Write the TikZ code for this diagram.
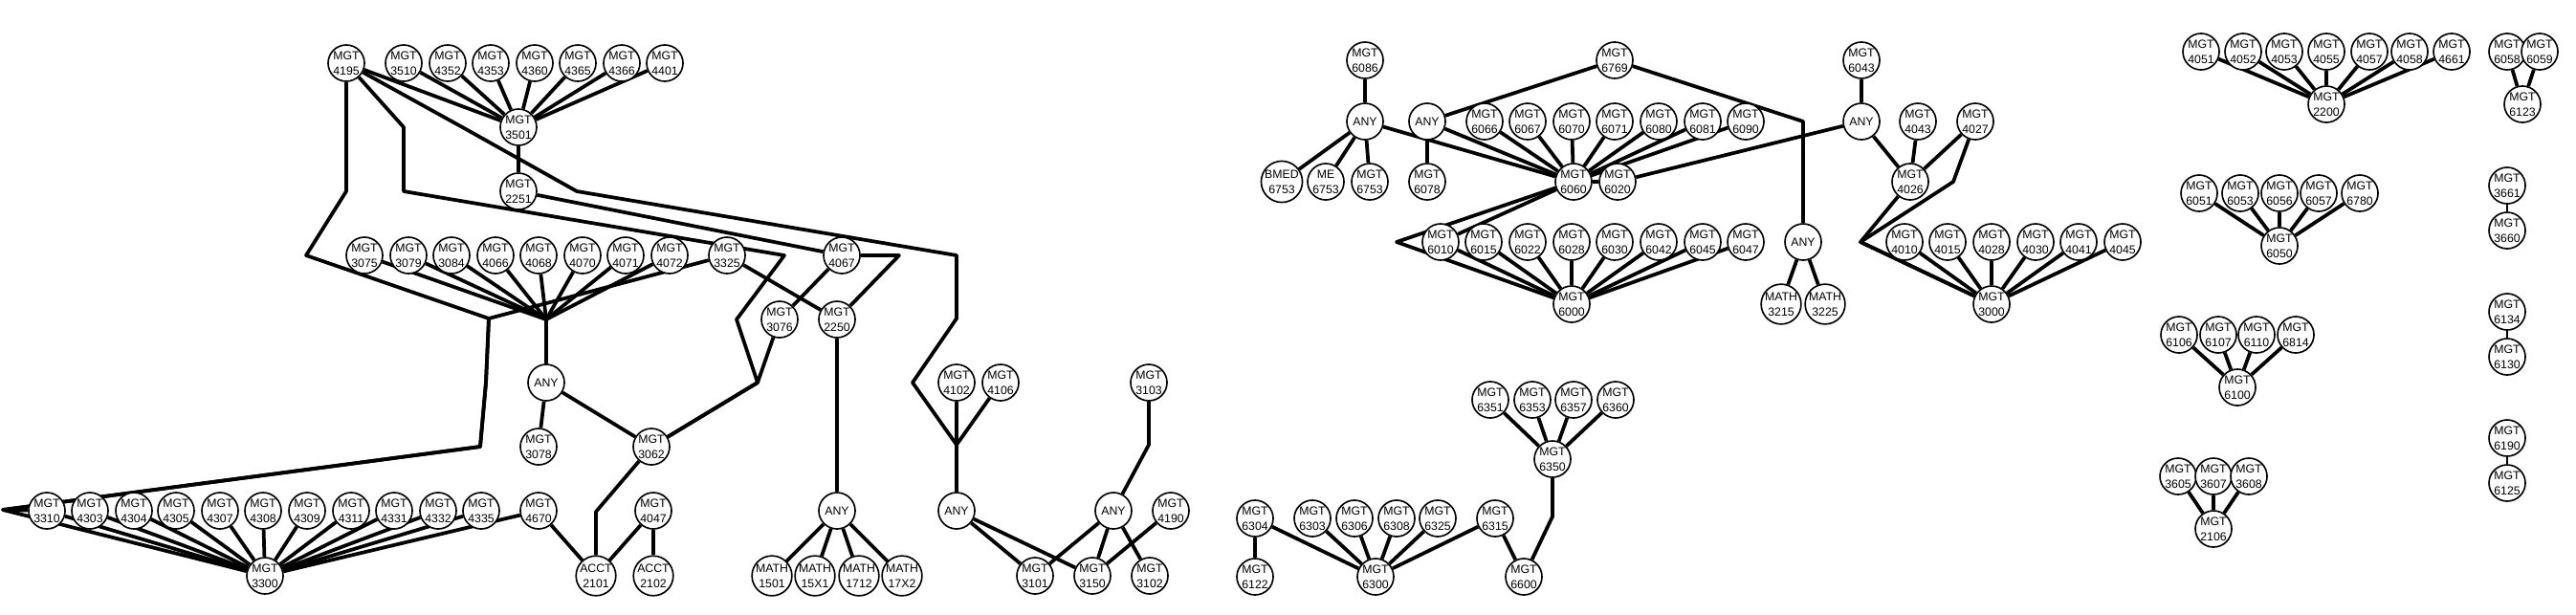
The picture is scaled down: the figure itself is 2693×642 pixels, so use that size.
\documentclass[tikz,border=0pt]{standalone}
\usepackage{fontspec}
\setmainfont{Liberation Sans}
\usetikzlibrary{backgrounds}
\newcommand\mkn[4]{\node[crs] (#1) at (#2,#3) {#4};}
\begin{document}
\begin{tikzpicture}[x=0.03cm,y=-0.03cm,
 crs/.style={circle,draw,line width=1.4pt,fill=white,inner sep=0pt,minimum size=1.14cm,align=center,font=\fontsize{10.5}{13.6}\selectfont},
 ed/.style={line width=3.2pt,line join=round},
 thin ed/.style={line width=2pt}]
\useasboundingbox (0,0) rectangle (2693,642);
% ---------- left component
\mkn{m4195}{362}{66}{MGT\\4195}
\mkn{m3510}{422}{66}{MGT\\3510}
\mkn{m4352}{468}{66}{MGT\\4352}
\mkn{m4353}{513}{66}{MGT\\4353}
\mkn{m4360}{559}{66}{MGT\\4360}
\mkn{m4365}{604}{66}{MGT\\4365}
\mkn{m4366}{650}{66}{MGT\\4366}
\mkn{m4401}{695}{66}{MGT\\4401}
\mkn{m3501}{542}{133}{MGT\\3501}
\mkn{m2251}{542}{200}{MGT\\2251}
\mkn{m3075}{381}{267}{MGT\\3075}
\mkn{m3079}{427}{267}{MGT\\3079}
\mkn{m3084}{472}{267}{MGT\\3084}
\mkn{m4066}{518}{267}{MGT\\4066}
\mkn{m4068}{563}{267}{MGT\\4068}
\mkn{m4070}{609}{267}{MGT\\4070}
\mkn{m4071}{654}{267}{MGT\\4071}
\mkn{m4072}{700}{267}{MGT\\4072}
\mkn{m3325}{760}{267}{MGT\\3325}
\mkn{m4067}{880}{267}{MGT\\4067}
\mkn{m3076}{815}{334}{MGT\\3076}
\mkn{m2250}{875}{334}{MGT\\2250}
\mkn{anyA}{571}{400}{ANY}
\mkn{m3078}{563}{467}{MGT\\3078}
\mkn{m3062}{681}{467}{MGT\\3062}
\mkn{m3310}{49}{534}{MGT\\3310}
\mkn{m4303}{94}{534}{MGT\\4303}
\mkn{m4304}{140}{534}{MGT\\4304}
\mkn{m4305}{184}{534}{MGT\\4305}
\mkn{m4307}{230}{534}{MGT\\4307}
\mkn{m4308}{275}{534}{MGT\\4308}
\mkn{m4309}{321}{534}{MGT\\4309}
\mkn{m4311}{367}{534}{MGT\\4311}
\mkn{m4331}{412}{534}{MGT\\4331}
\mkn{m4332}{458}{534}{MGT\\4332}
\mkn{m4335}{503}{534}{MGT\\4335}
\mkn{m4670}{563}{534}{MGT\\4670}
\mkn{m4047}{683}{534}{MGT\\4047}
\mkn{m3300}{277}{602}{MGT\\3300}
\mkn{a2101}{623}{602}{ACCT\\2101}
\mkn{a2102}{683}{602}{ACCT\\2102}
\mkn{anyB}{875}{534}{ANY}
\mkn{h1501}{807}{602}{MATH\\1501}
\mkn{h15X1}{852}{602}{MATH\\15X1}
\mkn{h1712}{898}{602}{MATH\\1712}
\mkn{h17X2}{943}{602}{MATH\\17X2}
\mkn{m4102}{1000}{400}{MGT\\4102}
\mkn{m4106}{1046}{400}{MGT\\4106}
\mkn{m3103}{1201}{400}{MGT\\3103}
\mkn{anyC}{1000}{534}{ANY}
\mkn{anyD}{1164}{534}{ANY}
\mkn{m4190}{1224}{534}{MGT\\4190}
\mkn{m3101}{1082}{602}{MGT\\3101}
\mkn{m3150}{1142}{602}{MGT\\3150}
\mkn{m3102}{1202}{602}{MGT\\3102}
% ---------- 63xx component
\mkn{m6304}{1312}{542}{MGT\\6304}
\mkn{m6122}{1312}{603}{MGT\\6122}
\mkn{m6303}{1372}{542}{MGT\\6303}
\mkn{m6306}{1416}{542}{MGT\\6306}
\mkn{m6308}{1460}{542}{MGT\\6308}
\mkn{m6325}{1503}{542}{MGT\\6325}
\mkn{m6315}{1563}{542}{MGT\\6315}
\mkn{m6300}{1438}{603}{MGT\\6300}
\mkn{m6600}{1593}{603}{MGT\\6600}
\mkn{m6351}{1558}{418}{MGT\\6351}
\mkn{m6353}{1602}{418}{MGT\\6353}
\mkn{m6357}{1645}{418}{MGT\\6357}
\mkn{m6360}{1689}{418}{MGT\\6360}
\mkn{m6350}{1623}{480}{MGT\\6350}
% ---------- 60xx component
\mkn{m6086}{1427}{63}{MGT\\6086}
\mkn{anyE}{1427}{127}{ANY}
\mkn{anyF}{1492}{127}{ANY}
\mkn{b6753}{1340}{190}{BMED\\6753}
\mkn{e6753}{1386}{190}{ME\\6753}
\mkn{m6753}{1432}{190}{MGT\\6753}
\mkn{m6078}{1492}{190}{MGT\\6078}
\mkn{m6769}{1688}{63}{MGT\\6769}
\mkn{m6066}{1552}{127}{MGT\\6066}
\mkn{m6067}{1597}{127}{MGT\\6067}
\mkn{m6070}{1643}{127}{MGT\\6070}
\mkn{m6071}{1688}{127}{MGT\\6071}
\mkn{m6080}{1734}{127}{MGT\\6080}
\mkn{m6081}{1780}{127}{MGT\\6081}
\mkn{m6090}{1825}{127}{MGT\\6090}
\mkn{m6060}{1645}{190}{MGT\\6060}
\mkn{m6020}{1691}{190}{MGT\\6020}
\mkn{m6010}{1506}{253}{MGT\\6010}
\mkn{m6015}{1551}{253}{MGT\\6015}
\mkn{m6022}{1597}{253}{MGT\\6022}
\mkn{m6028}{1643}{253}{MGT\\6028}
\mkn{m6030}{1688}{253}{MGT\\6030}
\mkn{m6042}{1734}{253}{MGT\\6042}
\mkn{m6045}{1780}{253}{MGT\\6045}
\mkn{m6047}{1825}{253}{MGT\\6047}
\mkn{m6000}{1643}{318}{MGT\\6000}
\mkn{m6043}{1946}{63}{MGT\\6043}
\mkn{anyH}{1946}{127}{ANY}
\mkn{m4043}{2005}{127}{MGT\\4043}
\mkn{m4027}{2065}{127}{MGT\\4027}
\mkn{m4026}{1997}{190}{MGT\\4026}
\mkn{anyG}{1885}{253}{ANY}
\mkn{t3215}{1862}{318}{MATH\\3215}
\mkn{t3225}{1908}{318}{MATH\\3225}
\mkn{m4010}{1991}{253}{MGT\\4010}
\mkn{m4015}{2036}{253}{MGT\\4015}
\mkn{m4028}{2082}{253}{MGT\\4028}
\mkn{m4030}{2128}{253}{MGT\\4030}
\mkn{m4041}{2173}{253}{MGT\\4041}
\mkn{m4045}{2219}{253}{MGT\\4045}
\mkn{m3000}{2082}{318}{MGT\\3000}
% ---------- right components
\mkn{m4051}{2301}{54}{MGT\\4051}
\mkn{m4052}{2345}{54}{MGT\\4052}
\mkn{m4053}{2388}{54}{MGT\\4053}
\mkn{m4055}{2432}{54}{MGT\\4055}
\mkn{m4057}{2477}{54}{MGT\\4057}
\mkn{m4058}{2519}{54}{MGT\\4058}
\mkn{m4661}{2563}{54}{MGT\\4661}
\mkn{m2200}{2432}{109}{MGT\\2200}
\mkn{m6058}{2621}{54}{MGT\\6058}
\mkn{m6059}{2655}{54}{MGT\\6059}
\mkn{m6123}{2637}{109}{MGT\\6123}
\mkn{m6051}{2299}{202}{MGT\\6051}
\mkn{m6053}{2342}{202}{MGT\\6053}
\mkn{m6056}{2383}{202}{MGT\\6056}
\mkn{m6057}{2424}{202}{MGT\\6057}
\mkn{m6780}{2467}{202}{MGT\\6780}
\mkn{m6050}{2383}{257}{MGT\\6050}
\mkn{m3661}{2621}{194}{MGT\\3661}
\mkn{m3660}{2621}{241}{MGT\\3660}
\mkn{m6134}{2621}{326}{MGT\\6134}
\mkn{m6130}{2621}{373}{MGT\\6130}
\mkn{m6106}{2278}{350}{MGT\\6106}
\mkn{m6107}{2319}{350}{MGT\\6107}
\mkn{m6110}{2359}{350}{MGT\\6110}
\mkn{m6814}{2400}{350}{MGT\\6814}
\mkn{m6100}{2339}{405}{MGT\\6100}
\mkn{m3605}{2277}{498}{MGT\\3605}
\mkn{m3607}{2314}{498}{MGT\\3607}
\mkn{m3608}{2351}{498}{MGT\\3608}
\mkn{m2106}{2314}{553}{MGT\\2106}
\mkn{m6190}{2621}{458}{MGT\\6190}
\mkn{m6125}{2621}{505}{MGT\\6125}
\begin{scope}[on background layer]
% left
\foreach \s in {m4195,m3510,m4352,m4353,m4360,m4365,m4366,m4401} \draw[ed] (\s) -- (m3501);
\draw[ed] (m3501) -- (m2251);
\draw[ed] (m4195) -- (487,135) -- (603,200) -- (1000,267) -- (1000,333) -- (954,400) -- (1000,465) -- (anyC);
\draw[ed] (m4195) -- (422,133) -- (422,200) -- (820,267) -- (770,334) -- (792,400) -- (m3062);
\draw[ed] (m4195) -- (362,200) -- (320,267) -- (511,333) -- (508,400) -- (502,467) -- (3,533) -- (m3310);
\draw[ed] (m3325) -- (511,333) -- (508,400) -- (502,467) -- (3,533) -- (m3300);
\draw[ed] (m2251) -- (m4067);
\draw[ed] (m4067) -- (m3076);
\draw[ed] (m4067) -- (940,267) -- (m2250);
\draw[ed] (m3325) -- (m2250);
\foreach \s in {m3075,m3079,m3084,m4066,m4068,m4070,m4071,m4072} \draw[ed] (\s) -- (571,334) -- (anyA);
\draw[ed] (anyA) -- (m3078);
\draw[ed] (anyA) -- (m3062);
\draw[ed] (m3076) -- (792,400) -- (m3062);
\draw[ed] (m3062) -- (623,535) -- (a2101);
\draw[ed] (m4670) -- (a2101);
\draw[ed] (m4047) -- (a2101);
\draw[ed] (m4047) -- (a2102);
\draw[ed] (m3300) -- (m4670);
\foreach \s in {m3310,m4303,m4304,m4305,m4307,m4308,m4309,m4311,m4331,m4332,m4335} \draw[ed] (\s) -- (m3300);
\draw[ed] (m2250) -- (anyB);
\foreach \s in {h1501,h15X1,h1712,h17X2} \draw[ed] (anyB) -- (\s);
\draw[ed] (m4102) -- (1000,465) -- (anyC);
\draw[ed] (m4106) -- (1000,465) -- (anyC);
\draw[ed] (anyC) -- (m3101);
\draw[ed] (anyC) -- (m3150);
\draw[ed] (m3103) -- (1201,465) -- (anyD);
\foreach \s in {m3101,m3150,m3102} \draw[ed] (anyD) -- (\s);
\draw[ed] (m4190) -- (m3150);
% 63xx
\foreach \s in {m6351,m6353,m6357,m6360} \draw[ed] (\s) -- (m6350);
\draw[ed] (m6350) -- (1623,540) -- (m6600);
\draw[ed] (m6315) -- (m6600);
\foreach \s in {m6304,m6303,m6306,m6308,m6325,m6315} \draw[ed] (\s) -- (m6300);
\draw[ed] (m6304) -- (m6122);
% 60xx
\draw[ed] (m6086) -- (anyE);
\foreach \s in {b6753,e6753,m6753} \draw[ed] (anyE) -- (\s);
\draw[ed] (anyE) -- (m6060);
\draw[ed] (anyF) -- (m6078);
\draw[ed] (anyF) -- (m6060);
\draw[ed] (m6769) -- (anyF);
\draw[ed] (m6769) -- (1885,127) -- (1885,190) -- (anyG);
\foreach \s in {m6066,m6067,m6070,m6071,m6080,m6081,m6090} \draw[ed] (\s) -- (m6060);
\draw[ed] (m6020) -- (m6060);
\draw[ed] (anyH) -- (m6020);
\draw[ed] (m6060) -- (1460,253) -- (m6000);
\draw[ed] (m6060) -- (m6010);
\foreach \s in {m6010,m6015,m6022,m6028,m6030,m6042,m6045,m6047} \draw[ed] (\s) -- (m6000);
\draw[ed] (anyG) -- (t3215);
\draw[ed] (anyG) -- (t3225);
\draw[ed] (m6043) -- (anyH);
\draw[ed] (anyH) -- (m4026);
\draw[ed] (m4043) -- (m4026);
\draw[ed] (m4027) -- (m4026);
\draw[ed] (m4027) -- (2042,190) -- (1945,253) -- (m3000);
\draw[ed] (m4026) -- (1945,253) -- (m3000);
\foreach \s in {m4010,m4015,m4028,m4030,m4041,m4045} \draw[ed] (\s) -- (m3000);
% right
\foreach \s in {m4051,m4052,m4053,m4055,m4057,m4058,m4661} \draw[ed] (\s) -- (m2200);
\draw[ed] (m6058) -- (m6123);
\draw[ed] (m6059) -- (m6123);
\foreach \s in {m6051,m6053,m6056,m6057,m6780} \draw[ed] (\s) -- (m6050);
\draw[thin ed] (m3661) -- (m3660);
\draw[thin ed] (m6134) -- (m6130);
\draw[thin ed] (m6190) -- (m6125);
\foreach \s in {m6106,m6107,m6110,m6814} \draw[ed] (\s) -- (m6100);
\foreach \s in {m3605,m3607,m3608} \draw[ed] (\s) -- (m2106);
\end{scope}
\end{tikzpicture}
\end{document}
